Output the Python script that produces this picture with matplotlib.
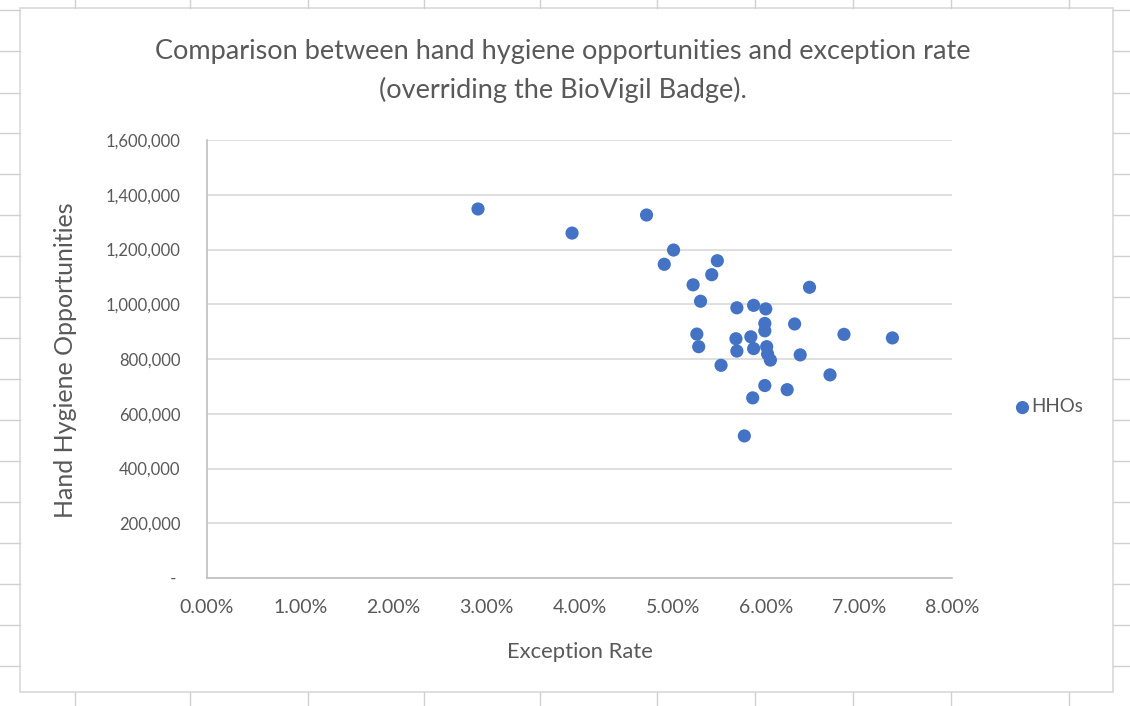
import matplotlib.pyplot as plt
from matplotlib.ticker import FuncFormatter, MultipleLocator
from matplotlib.lines import Line2D
from matplotlib.patches import Rectangle

plt.rcParams['font.family'] = ['Lato', 'DejaVu Sans']

# exception rate (%) and hand hygiene opportunities per record
exception_rate = [2.91, 3.92, 4.72, 5.01, 4.91, 5.48, 5.42, 5.22, 5.30, 6.47,
                  5.69, 5.87, 6.00, 5.99, 5.99, 6.31, 6.84, 7.36, 5.26, 5.28,
                  5.68, 5.69, 5.84, 5.87, 6.01, 6.02, 6.05, 6.37, 5.52, 6.69,
                  5.99, 6.23, 5.86, 5.77]
hhos = [1348000, 1260000, 1326000, 1198000, 1146000, 1159000, 1108000, 1071000,
        1011000, 1062000, 987000, 996000, 983000, 930000, 903000, 928000, 890000,
        877000, 891000, 845000, 874000, 829000, 881000, 838000, 845000, 818000,
        796000, 815000, 777000, 742000, 703000, 688000, 658000, 519000]

grey = '#595959'
blue = '#4472C4'
W, H = 1130, 706

fig = plt.figure(figsize=(11.3, 7.06), dpi=100)

# chart area border and spreadsheet grid ticks around it
fig.patches.append(Rectangle((20 / W, 1 - 692 / H), 1093 / W, 684 / H,
                             transform=fig.transFigure, fill=False,
                             edgecolor='#d9d9d9', linewidth=1.2))
for xp in [75, 190, 308, 424, 540, 657, 755, 853, 951, 1069]:
    fig.lines.append(Line2D([xp / W, xp / W], [1, 1 - 8 / H],
                            transform=fig.transFigure, color='#d0d0d0', lw=1))
    fig.lines.append(Line2D([xp / W, xp / W], [0, 1 - 692 / H],
                            transform=fig.transFigure, color='#d0d0d0', lw=1))
for yp in [10, 51, 93, 133, 174, 215, 256, 297, 338, 379, 420, 461, 502, 543, 584, 625, 666]:
    fig.lines.append(Line2D([0, 20 / W], [1 - yp / H, 1 - yp / H],
                            transform=fig.transFigure, color='#d0d0d0', lw=1))
    fig.lines.append(Line2D([1113 / W, 1], [1 - yp / H, 1 - yp / H],
                            transform=fig.transFigure, color='#d0d0d0', lw=1))

ax = fig.add_axes([207 / W, 128 / H, 745 / W, 438 / H])
ax.scatter(exception_rate, hhos, s=90, color=blue, edgecolors='none', zorder=3, label='HHOs')

ax.set_xlim(0, 8)
ax.set_ylim(0, 1600000)
ax.xaxis.set_major_locator(MultipleLocator(1))
ax.yaxis.set_major_locator(MultipleLocator(200000))
ax.xaxis.set_major_formatter(FuncFormatter(lambda v, p: '%.2f%%' % v))
ax.yaxis.set_major_formatter(FuncFormatter(lambda v, p: ' - ' if v == 0 else '{:,.0f}'.format(v)))
ax.tick_params(length=0, colors=grey)
ax.tick_params(axis='y', labelsize=12, pad=19)
ax.tick_params(axis='x', labelsize=14, pad=15)

ax.yaxis.grid(True, color='#d9d9d9', linewidth=1.2)
ax.set_axisbelow(True)
for s in ['top', 'right']:
    ax.spines[s].set_visible(False)
for s in ['left', 'bottom']:
    ax.spines[s].set_color('#bfbfbf')
    ax.spines[s].set_linewidth(1.2)

fig.text(580 / W, 1 - 652 / H, 'Exception Rate', ha='center', va='center',
         fontsize=15.8, color=grey)
fig.text(66 / W, 1 - 360 / H, 'Hand Hygiene Opportunities', ha='center', va='center',
         rotation=90, fontsize=18, color=grey)

fig.text(563 / W, 1 - 71 / H,
         'Comparison between hand hygiene opportunities and exception rate\n'
         '(overriding the BioVigil Badge).',
         ha='center', va='center', fontsize=19.5, color=grey, linespacing=1.65)

fig.legend(loc='center left', bbox_to_anchor=(1015 / W, 1 - 407 / H), frameon=False,
           fontsize=13.5, labelcolor=grey, handlelength=0.8, handletextpad=0.05,
           markerscale=1.0, borderpad=0, borderaxespad=0)

fig.savefig('out.png', dpi=100)
